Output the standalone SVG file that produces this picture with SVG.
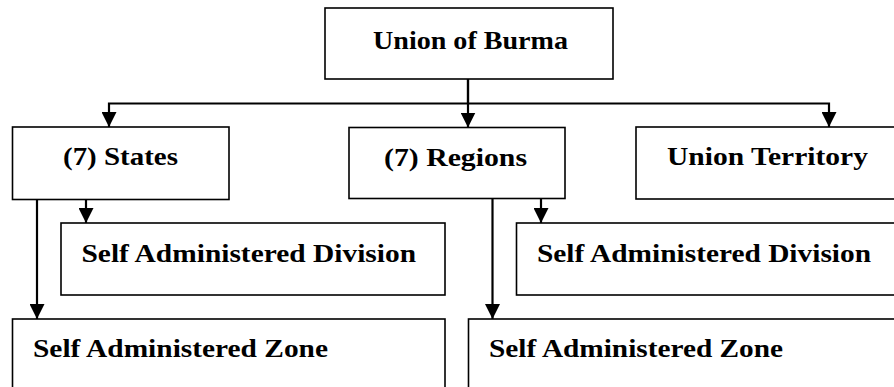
<svg xmlns="http://www.w3.org/2000/svg" width="894" height="387" viewBox="0 0 894 387">
  <style>
    .box { fill: #ffffff; stroke: #000000; stroke-width: 1.6; }
    .lbl { font-family: "Liberation Serif", "Times New Roman", serif; font-weight: bold; font-size: 26px; fill: #000000; }
    .conn { fill: none; stroke: #000000; stroke-width: 2.2; }
  </style>
  <defs>
    <marker id="arrow" markerUnits="userSpaceOnUse" viewBox="0 0 15 15" markerWidth="15" markerHeight="15" refX="15" refY="7.5" orient="auto">
      <path d="M0,0 L15,7.5 L0,15 Z" fill="#000000"/>
    </marker>
  </defs>
  <rect x="0" y="0" width="894" height="387" fill="#ffffff"/>

  <g id="union">
    <rect class="box" x="325" y="8" width="288" height="71"/>
    <text class="lbl" x="373" y="49" textLength="195" lengthAdjust="spacingAndGlyphs">Union of Burma</text>
  </g>
  <g id="states">
    <rect class="box" x="12.5" y="127" width="216.5" height="72.5"/>
    <text class="lbl" x="63" y="165" textLength="115" lengthAdjust="spacingAndGlyphs">(7) States</text>
  </g>
  <g id="regions">
    <rect class="box" x="349" y="127.5" width="216" height="71"/>
    <text class="lbl" x="384" y="166" textLength="143" lengthAdjust="spacingAndGlyphs">(7) Regions</text>
  </g>
  <g id="union-territory">
    <rect class="box" x="636" y="127" width="270" height="72"/>
    <text class="lbl" x="667" y="165" textLength="201" lengthAdjust="spacingAndGlyphs">Union Territory</text>
  </g>
  <g id="states-division">
    <rect class="box" x="61" y="223" width="384" height="72"/>
    <text class="lbl" x="81.5" y="261.5" textLength="334.5" lengthAdjust="spacingAndGlyphs">Self Administered Division</text>
  </g>
  <g id="regions-division">
    <rect class="box" x="516.5" y="223" width="390" height="72"/>
    <text class="lbl" x="537" y="261.5" textLength="334" lengthAdjust="spacingAndGlyphs">Self Administered Division</text>
  </g>
  <g id="states-zone">
    <rect class="box" x="12.5" y="319" width="432.5" height="90"/>
    <text class="lbl" x="33" y="357" textLength="295" lengthAdjust="spacingAndGlyphs">Self Administered Zone</text>
  </g>
  <g id="regions-zone">
    <rect class="box" x="468.5" y="319" width="440" height="90"/>
    <text class="lbl" x="489" y="357" textLength="294" lengthAdjust="spacingAndGlyphs">Self Administered Zone</text>
  </g>

  <g id="connectors">
    <path class="conn" d="M468,79 V103.5 H109 V127" marker-end="url(#arrow)"/>
    <path class="conn" d="M468,79 V127.5" marker-end="url(#arrow)"/>
    <path class="conn" d="M468,103.5 H829 V127" marker-end="url(#arrow)"/>
    <path class="conn" d="M37,199.5 V319" marker-end="url(#arrow)"/>
    <path class="conn" d="M86,199.5 V223" marker-end="url(#arrow)"/>
    <path class="conn" d="M492.5,198.5 V319" marker-end="url(#arrow)"/>
    <path class="conn" d="M541,198.5 V223" marker-end="url(#arrow)"/>
  </g>
</svg>
